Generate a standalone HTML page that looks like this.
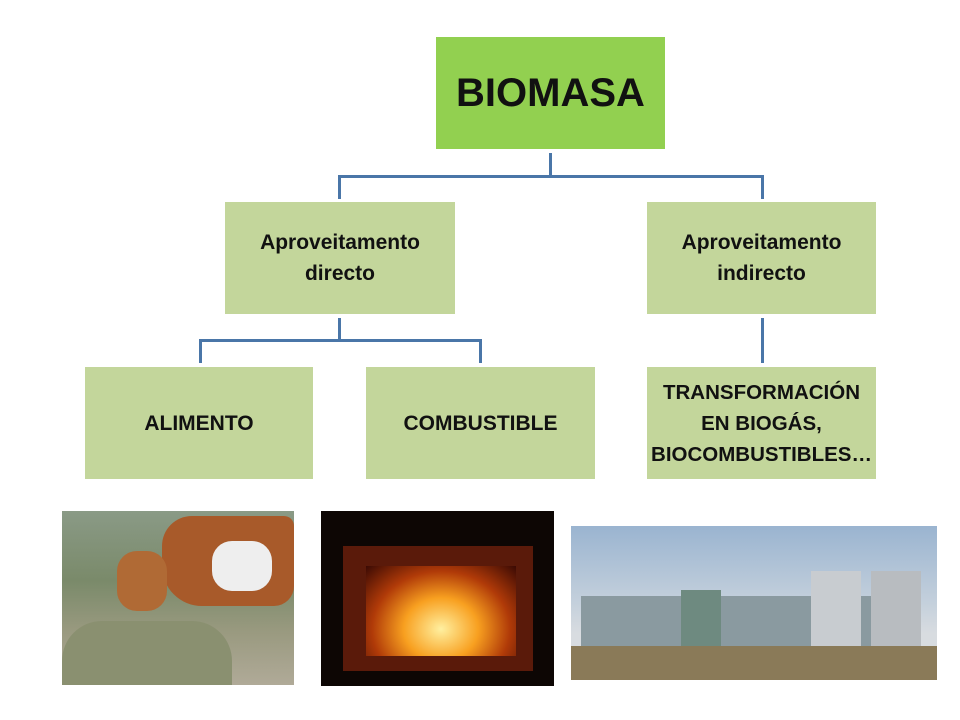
<!DOCTYPE html>
<html><head><meta charset="utf-8"><style>
body{margin:0;width:960px;height:720px;background:#fff;position:relative;overflow:hidden;font-family:"Liberation Sans",sans-serif;font-weight:bold;color:#111}
.b{position:absolute;background:#c3d69b;display:flex;align-items:center;justify-content:center;text-align:center;font-size:21px;line-height:31px;white-space:nowrap}
.l{position:absolute;background:#4a76a8}
.p{position:absolute;overflow:hidden}
</style></head><body>
<div class="b" style="left:436px;top:37px;width:229px;height:112px;background:#92d050;font-size:40px">BIOMASA</div>
<div class="b" style="left:225px;top:202px;width:230px;height:112px">Aproveitamento<br>directo</div>
<div class="b" style="left:647px;top:202px;width:229px;height:112px">Aproveitamento<br>indirecto</div>
<div class="b" style="left:85px;top:367px;width:228px;height:112px">ALIMENTO</div>
<div class="b" style="left:366px;top:367px;width:229px;height:112px">COMBUSTIBLE</div>
<div class="b" style="left:647px;top:367px;width:229px;height:112px;font-size:20.5px">TRANSFORMACIÓN<br>EN BIOGÁS,<br>BIOCOMBUSTIBLES…</div>
<div class="l" style="left:549px;top:153px;width:3px;height:24px"></div>
<div class="l" style="left:338px;top:175px;width:426px;height:3px"></div>
<div class="l" style="left:338px;top:175px;width:3px;height:24px"></div>
<div class="l" style="left:761px;top:175px;width:3px;height:24px"></div>
<div class="l" style="left:338px;top:318px;width:3px;height:24px"></div>
<div class="l" style="left:199px;top:339px;width:282px;height:3px"></div>
<div class="l" style="left:199px;top:339px;width:3px;height:24px"></div>
<div class="l" style="left:479px;top:339px;width:3px;height:24px"></div>
<div class="l" style="left:761px;top:318px;width:3px;height:45px"></div>
<div class="p" style="left:62px;top:511px;width:232px;height:174px;background:linear-gradient(180deg,#8a9a86 0%,#7a8a6a 40%,#9a9a80 70%,#b0aa98 100%)">
 <div style="position:absolute;left:100px;top:5px;width:132px;height:90px;background:#a85a2a;border-radius:30px 10px 20px 40px"></div>
 <div style="position:absolute;left:150px;top:30px;width:60px;height:50px;background:#eee;border-radius:20px"></div>
 <div style="position:absolute;left:55px;top:40px;width:50px;height:60px;background:#b06a35;border-radius:20px"></div>
 <div style="position:absolute;left:0;top:110px;width:170px;height:64px;background:#8a9070;border-radius:40px 40px 0 0"></div>
</div>
<div class="p" style="left:321px;top:511px;width:233px;height:175px;background:#0d0604">
 <div style="position:absolute;left:22px;top:35px;width:190px;height:125px;background:#5a1a0a"></div>
 <div style="position:absolute;left:45px;top:55px;width:150px;height:90px;background:radial-gradient(ellipse at 50% 70%,#fff0a0 0%,#f8a020 35%,#b03a08 65%,#3a0a04 100%)"></div>
</div>
<div class="p" style="left:571px;top:526px;width:366px;height:154px;background:linear-gradient(180deg,#9ab4d0 0%,#c4d0dc 50%,#d8dce0 70%)">
 <div style="position:absolute;left:10px;top:70px;width:290px;height:55px;background:#8a9aa0"></div>
 <div style="position:absolute;left:110px;top:64px;width:40px;height:60px;background:#6e8a80"></div>
 <div style="position:absolute;left:240px;top:45px;width:50px;height:80px;background:#c8ccd0"></div>
 <div style="position:absolute;left:300px;top:45px;width:50px;height:80px;background:#b8bcc0"></div>
 <div style="position:absolute;left:0;top:120px;width:366px;height:34px;background:#8a7a58"></div>
</div>
</body></html>
